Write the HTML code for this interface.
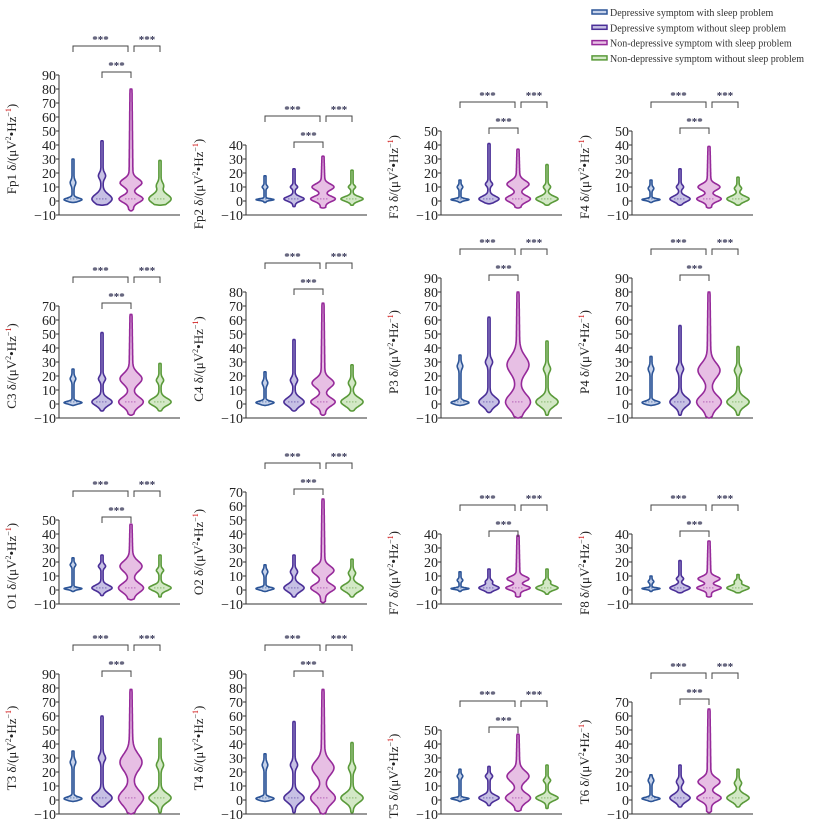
<!DOCTYPE html>
<html><head><meta charset="utf-8">
<style>
html,body{margin:0;padding:0;background:#fff;}
svg{display:block;font-family:"Liberation Serif",serif;}
</style></head>
<body>
<svg id="chart" width="814" height="830" viewBox="0 0 814 830" xmlns="http://www.w3.org/2000/svg">
<g id="legend"></g>
<g id="panels"></g>
</svg>
<script>
// ---- data ----
const channels = ['Fp1','Fp2','F3','F4','C3','C4','P3','P4','O1','O2','F7','F8','T3','T4','T5','T6'];
const yTopTicks = [90,40,50,50,70,80,90,90,50,70,40,40,90,90,50,70];
const groupNames = ['Depressive symptom with sleep problem','Depressive symptom without sleep problem','Non-depressive symptom with sleep problem','Non-depressive symptom without sleep problem'];
const maxVals = [
 [30,43,80,29],[18,23,32,22],[15,41,37,26],[15,23,39,17],
 [25,51,64,29],[23,46,72,28],[35,62,80,45],[34,56,80,41],
 [23,25,47,25],[18,25,65,22],[13,15,39,15],[10,21,35,11],
 [35,60,79,44],[33,56,79,41],[22,24,47,25],[18,25,65,22]];
const upperModes = [
 [13,18,13,11],[10,10,10,10],[10,12,12,10],[9,10,10,9],
 [18,18,18,17],[15,17,15,15],[27,30,28,25],[25,25,24,24],
 [18,17,17,14],[13,13,14,12],[7,6,8,6],[6,8,8,6],
 [27,30,27,25],[25,25,23,23],[17,17,17,14],[14,13,13,12]];
const minVals = [
 [-1,-3,-7,-3],[-1,-4,-5,-3],[-1,-2,-5,-3],[-1,-3,-5,-3],
 [-1,-5,-8,-5],[-1,-5,-8,-5],[-1,-6,-10,-8],[-1,-8,-10,-8],
 [-1,-4,-7,-5],[-1,-5,-9,-5],[-1,-2,-5,-3],[-1,-2,-5,-2],
 [-1,-5,-10,-9],[-1,-9,-10,-9],[-1,-4,-8,-6],[-1,-5,-9,-5]];
const sigLabels = ['***','***','***'];

// ---- style / layout ----
const strokeCols = ['#2d5597','#4a2f97','#962a9a','#5a9a3a'];
const fillCols = ['#c6d2ea','#c6c0e4','#e7bfe4','#d3e8c6'];
const colAxisX = [59,246,441,632];
const colOffset = [14,19,19,19];
const rowBottom = [215,418,604,814];
const pxPerUnit = 1.4;
const NS = 'http://www.w3.org/2000/svg';
function mk(tag, attrs, parent){const e=document.createElementNS(NS,tag);for(const k in attrs)e.setAttribute(k,attrs[k]);if(parent)parent.appendChild(e);return e;}

// legend
const leg = document.getElementById('legend');
groupNames.forEach((n,i)=>{
  const y = 12 + i*15.3;
  const sw = mk('rect',{x:592,y:y-2,width:15,height:4,fill:fillCols[i],stroke:strokeCols[i],'stroke-width':1.5},leg);
  
  
  const t = mk('text',{x:610,y:y+4,'font-size':10,fill:'#333',textLength:i===3?194:null},leg);
  if(i!==3) t.removeAttribute('textLength');
  t.textContent = n;
  
  
});

const panelsG = document.getElementById('panels');
channels.forEach((ch,p)=>{
  const row = Math.floor(p/4), col = p%4;
  const ax = colAxisX[col], yb = rowBottom[row];
  const top = yTopTicks[p];
  const Y = v => yb - (v+10)*pxPerUnit;
  const X = g => ax + colOffset[col] + g*29;
  const g = mk('g',{},panelsG);
  
  
  const yAxis = mk('line',{x1:ax,y1:Y(top),x2:ax,y2:yb,stroke:'#333','stroke-width':1},g);
  
  
  const xAxis = mk('line',{x1:ax,y1:yb,x2:ax+121,y2:yb,stroke:'#333','stroke-width':1},g);
  
  
  for(let v=-10; v<=top; v+=10){
    mk('line',{x1:ax-3,y1:Y(v),x2:ax,y2:Y(v),stroke:'#333','stroke-width':1},g);
    const t = mk('text',{x:ax-3,y:Y(v)+5,'font-size':14,'text-anchor':'end',fill:'#222'},g);
    t.textContent = v<0 ? '\u2212'+Math.abs(v) : String(v);
    
    
  }
  const cy = (Y(top)+yb)/2 + 4, cx = ax-43;
  const yt = mk('text',{x:cx,y:cy,'font-size':13,'text-anchor':'middle',fill:'#222',transform:`rotate(-90 ${cx} ${cy})`},g);
  yt.innerHTML = ch+' \u03b4/(\u03bcV<tspan dy="-5" font-size="8">2</tspan><tspan dy="5">\u2022Hz</tspan><tspan dy="-5" font-size="8">\u2212<tspan fill="#c00">1</tspan></tspan><tspan dy="5">)</tspan>';
  
  
  for(let k=0;k<4;k++){
    const mx = maxVals[p][k], mn = minVals[p][k], up = upperModes[p][k];
    const R = top+10;
    let wf;
    if(k===0) wf = v => 8*Math.exp(-Math.pow((v-1)/(R*0.016),2)) + 1.8*Math.exp(-Math.pow((v-up)/(R*0.025),2)) + 1.0;
    else if(k===1) wf = v => 9*Math.exp(-Math.pow((v-1.5)/(R*0.045),2)) + 2.5*Math.exp(-Math.pow((v-up)/(R*0.03),2)) + 1.1;
    else if(k===2) wf = v => 10*Math.exp(-Math.pow((v-1.5)/(up*0.26),2)) + 9*Math.exp(-Math.pow((v-up)/(up*0.3),2)) + 1.0*Math.max(0,1-(v-up)/(mx-up+1))+1.0;
    else wf = v => 10*Math.exp(-Math.pow((v-1.5)/(R*0.045),2)) + 2.5*Math.exp(-Math.pow((v-up)/(R*0.03),2)) + 1.1;
    const cxv = X(k), N=80;
    let right=[], left=[];
    for(let i=0;i<=N;i++){
      const v = mn + (mx-mn)*i/N;
      let w = wf(v);
      if(i===0||i===N) w = Math.min(w,0.8);
      right.push([cxv+w, Y(v)]); left.push([cxv-w, Y(v)]);
    }
    const pts = right.concat(left.reverse()).map(q=>q[0].toFixed(1)+','+q[1].toFixed(1)).join(' ');
    const vi = mk('polygon',{points:pts,fill:fillCols[k],stroke:strokeCols[k],'stroke-width':1.6,'stroke-linejoin':'round'},g);
    
    
    const md = mk('line',{x1:cxv-6,y1:Y(1.5),x2:cxv+6,y2:Y(1.5),stroke:strokeCols[k],'stroke-width':0.6,'stroke-dasharray':'1.5 1.5'},g);
    
    
  }
  const inner = Y(top)-3, outer = inner-26;
  const br = [[X(0),X(2)-3,outer],[X(2)+3,X(3),outer],[X(1),X(2),inner]];
  br.forEach((b,i)=>{
    const pth = mk('path',{d:`M${b[0]},${b[2]+6} V${b[2]} H${b[1]} V${b[2]+6}`,fill:'none',stroke:'#444','stroke-width':1},g);
    
    
    const st = mk('text',{x:(b[0]+b[1])/2,y:b[2]-3,'font-size':11,'text-anchor':'middle',fill:'#3a3a5a','font-weight':'bold'},g);
    st.textContent = sigLabels[i];
    
    
  });
});
</script>
</body></html>
